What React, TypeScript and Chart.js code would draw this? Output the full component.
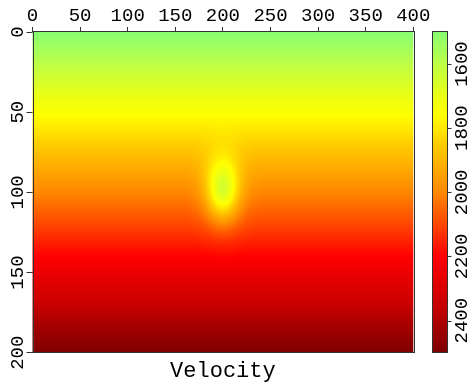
import { useEffect, useRef } from "react";
import { Chart, registerables } from "chart.js";

Chart.register(...registerables);

// ---- data ----
const xTicks = [0, 50, 100, 150, 200, 250, 300, 350, 400];
const depthTicks = [0, 50, 100, 150, 200];
const colorTicks = [1600, 1800, 2000, 2200, 2400];
const colorMin = 1500;
const colorMax = 2500;

// background velocity versus depth
const profileDepths = [0, 25, 50, 75, 100, 125, 150, 175, 200];
const profileVelocity = [1500, 1625, 1750, 1875, 2000, 2125, 2250, 2375, 2500];

// low-velocity anomaly
const anomalyCenterX = 200;
const anomalyCenterZ = 99;
const anomalyRadiusX = 20;
const anomalyRadiusZ = 22;
const anomalyDist = [0, 0.25, 0.5, 0.75, 1, 1.25, 1.5, 2];
const anomalyDelta = [-350, -318, -245, -160, -90, -45, -17, 0];

// colour map
const cmapValues = [1500, 1600, 1700, 1760, 1850, 2000, 2100, 2200, 2350, 2500];
const cmapColors = [
  [135, 255, 115],
  [190, 255, 70],
  [235, 255, 20],
  [255, 255, 0],
  [255, 205, 0],
  [255, 135, 0],
  [255, 70, 0],
  [255, 0, 0],
  [200, 0, 0],
  [125, 0, 0],
];

const titleText = "Velocity";
const monoFont = "Liberation Mono";

function lerp1(xs: number[], ys: number[], x: number): number {
  if (x <= xs[0]) return ys[0];
  const n = xs.length;
  if (x >= xs[n - 1]) return ys[n - 1];
  for (let i = 0; i < n - 1; i++) {
    if (x >= xs[i] && x <= xs[i + 1]) {
      const t = (x - xs[i]) / (xs[i + 1] - xs[i]);
      return ys[i] + t * (ys[i + 1] - ys[i]);
    }
  }
  return ys[n - 1];
}

function velocityAt(x: number, z: number): number {
  const bg = lerp1(profileDepths, profileVelocity, z);
  const dx = (x - anomalyCenterX) / anomalyRadiusX;
  const dz = (z - anomalyCenterZ) / anomalyRadiusZ;
  const r = Math.sqrt(dx * dx + dz * dz);
  return bg + lerp1(anomalyDist, anomalyDelta, r);
}

function colorOf(v: number): number[] {
  const n = cmapValues.length;
  if (v <= cmapValues[0]) return cmapColors[0];
  if (v >= cmapValues[n - 1]) return cmapColors[n - 1];
  for (let i = 0; i < n - 1; i++) {
    if (v >= cmapValues[i] && v <= cmapValues[i + 1]) {
      const t = (v - cmapValues[i]) / (cmapValues[i + 1] - cmapValues[i]);
      const a = cmapColors[i];
      const b = cmapColors[i + 1];
      return [a[0] + t * (b[0] - a[0]), a[1] + t * (b[1] - a[1]), a[2] + t * (b[2] - a[2])];
    }
  }
  return cmapColors[n - 1];
}

const fieldPlugin = {
  id: "velocityField",
  beforeDatasetsDraw(chart: any) {
    const ctx = chart.ctx as CanvasRenderingContext2D;
    const area = chart.chartArea;
    const xs = chart.scales.x;
    const ys = chart.scales.y;
    const cs = chart.scales.c;
    const x0 = Math.floor(area.left);
    const y0 = Math.floor(area.top);
    const w = Math.ceil(area.right) - x0;
    const h = Math.ceil(area.bottom) - y0;
    const off = document.createElement("canvas");
    off.width = w;
    off.height = h;
    const octx = off.getContext("2d")!;
    const img = octx.createImageData(w, h);
    for (let py = 0; py < h; py++) {
      const z = ys.getValueForPixel(y0 + py + 0.5);
      for (let px = 0; px < w; px++) {
        const x = xs.getValueForPixel(x0 + px + 0.5);
        const c = colorOf(velocityAt(x, z));
        const k = (py * w + px) * 4;
        img.data[k] = c[0];
        img.data[k + 1] = c[1];
        img.data[k + 2] = c[2];
        img.data[k + 3] = 255;
      }
    }
    octx.putImageData(img, 0, 0);
    ctx.save();
    ctx.beginPath();
    ctx.rect(area.left, area.top, area.right - area.left, area.bottom - area.top);
    ctx.clip();
    ctx.drawImage(off, x0, y0);
    ctx.restore();

    // colour bar
    const barLeft = cs.left + 19;
    const barRight = cs.left + 34;
    const top = cs.getPixelForValue(colorMin);
    const bottom = cs.getPixelForValue(colorMax);
    ctx.save();
    for (let py = Math.floor(top); py < Math.ceil(bottom); py++) {
      const v = cs.getValueForPixel(py + 0.5);
      const c = colorOf(v);
      ctx.fillStyle = `rgb(${Math.round(c[0])},${Math.round(c[1])},${Math.round(c[2])})`;
      ctx.fillRect(barLeft, py, barRight - barLeft, 1);
    }
    ctx.strokeStyle = "#333";
    ctx.lineWidth = 1;
    ctx.strokeRect(Math.round(barLeft) + 0.5, Math.round(top) - 0.5, Math.round(barRight - barLeft), Math.round(bottom - top));
    ctx.beginPath();
    for (const v of colorTicks) {
      const p = Math.round(cs.getPixelForValue(v)) + 0.5;
      ctx.moveTo(Math.round(barRight) + 0.5, p);
      ctx.lineTo(Math.round(barRight) + 4.5, p);
    }
    ctx.stroke();
    ctx.restore();
  },
  afterDraw(chart: any) {
    const ctx = chart.ctx as CanvasRenderingContext2D;
    const a = chart.chartArea;
    ctx.save();
    ctx.strokeStyle = "#333";
    ctx.lineWidth = 1;
    ctx.strokeRect(Math.round(a.left) + 0.5, Math.round(a.top) - 0.5, Math.round(a.right - a.left), Math.round(a.bottom - a.top));
    ctx.restore();
  },
};

function noPad(s: any) {
  s.paddingTop = 0;
  s.paddingBottom = 0;
  s.paddingLeft = 0;
  s.paddingRight = 0;
}

export default function App() {
  const ref = useRef<HTMLCanvasElement | null>(null);
  useEffect(() => {
    document.body.style.margin = "0";
    const canvas = ref.current!;
    const tickFont = { family: monoFont, size: 19 };
    const chart = new Chart(canvas, {
      type: "scatter",
      data: { datasets: [{ data: [] }] },
      plugins: [fieldPlugin],
      options: {
        animation: false,
        responsive: false,
        layout: { padding: 0, autoPadding: false },
        plugins: {
          legend: { display: false },
          tooltip: { enabled: false },
          title: { display: false },
        },
        scales: {
          x: {
            type: "linear",
            position: "top",
            min: 0,
            max: 400,
            afterBuildTicks: (s: any) => {
              s.ticks = xTicks.map((value) => ({ value }));
            },
            afterFit: (s: any) => {
              s.height = 32;
              noPad(s);
            },
            ticks: {
              font: tickFont,
              color: "#000",
              padding: 0,
              maxRotation: 0,
              minRotation: 0,
              callback: (v: any) => String(v),
            },
            grid: { drawOnChartArea: false, drawTicks: true, tickLength: 5, color: "#333" },
            border: { display: false },
          },
          x2: {
            type: "linear",
            axis: "x",
            position: "bottom",
            min: 0,
            max: 400,
            afterFit: (s: any) => {
              s.height = 31.3;
              noPad(s);
            },
            ticks: { display: false },
            grid: { display: false, drawTicks: false },
            border: { display: false },
            title: {
              display: true,
              text: titleText,
              color: "#000",
              font: { family: monoFont, size: 22, weight: "normal" },
              padding: { top: 0, bottom: 0 },
            },
          },
          y: {
            type: "linear",
            position: "left",
            reverse: true,
            min: 0,
            max: 200,
            afterBuildTicks: (s: any) => {
              s.ticks = depthTicks.map((value) => ({ value }));
            },
            afterFit: (s: any) => {
              s.width = 32.5;
              noPad(s);
            },
            ticks: {
              font: tickFont,
              color: "#000",
              padding: -9,
              minRotation: 90,
              maxRotation: 90,
              crossAlign: "center",
              callback: (v: any) => String(v),
            },
            grid: { drawOnChartArea: false, drawTicks: true, tickLength: 6, color: "#333" },
            border: { display: false },
          },
          c: {
            type: "linear",
            position: "right",
            reverse: true,
            min: colorMin,
            max: colorMax,
            afterBuildTicks: (s: any) => {
              s.ticks = colorTicks.map((value) => ({ value }));
            },
            afterFit: (s: any) => {
              s.width = 59.7;
              noPad(s);
            },
            ticks: {
              font: tickFont,
              color: "#000",
              padding: 26,
              minRotation: 90,
              maxRotation: 90,
              crossAlign: "center",
              callback: (v: any) => String(v),
            },
            grid: { display: false, drawTicks: false },
            border: { display: false },
          },
        },
      } as any,
    });
    return () => chart.destroy();
  }, []);
  return <canvas ref={ref} width={473} height={384} style={{ display: "block" }} />;
}
